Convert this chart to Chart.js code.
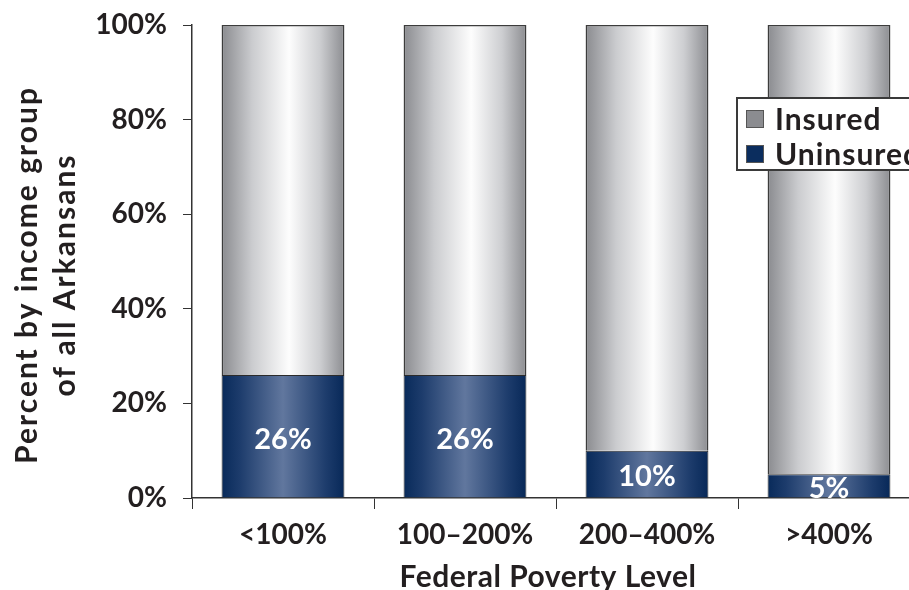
<!DOCTYPE html>
<html>
<head>
<meta charset="utf-8">
<script src="https://cdn.jsdelivr.net/npm/chart.js@4"></script>
<style>
  html, body { margin: 0; padding: 0; overflow: hidden; background: #fff; }
  #wrap { width: 930px; height: 590px; }
</style>
</head>
<body>
<div id="wrap"><canvas id="chart"></canvas></div>
<script>
const categories = ['<100%', '100\u2013200%', '200\u2013400%', '>400%'];
const insured = [74, 74, 90, 95];
const uninsured = [26, 26, 10, 5];
const yTickValues = [0, 20, 40, 60, 80, 100];

const textFont = 'Lato, "Open Sans", sans-serif';
const ink = '#231f20';

// horizontal gradient across each bar, dark edges, light middle
function barGradient(ctx, stops) {
    const chart = ctx.chart;
    if (!chart.chartArea || ctx.dataIndex === undefined) return stops[0][1];
    const xs = chart.scales.x;
    const cx = xs.getPixelForValue(ctx.dataIndex);
    const half = (xs.width / categories.length) * 0.675 / 2;
    const g = chart.ctx.createLinearGradient(cx - half, 0, cx + half, 0);
    stops.forEach(s => g.addColorStop(s[0], s[1]));
    return g;
}

const navyStops = [[0, '#082a5a'], [0.15, '#1d3c6c'], [0.5, '#61779e'], [0.85, '#1d3c6c'], [1, '#072858']];
const grayStops = [[0, '#8a8b8f'], [0.25, '#cbcccf'], [0.55, '#fdfdfd'], [0.8, '#cdced1'], [1, '#8c8d91']];

const extras = {
    id: 'extras',
    afterDatasetsDraw(chart) {
        const c = chart.ctx;
        const meta = chart.getDatasetMeta(0);
        c.save();
        // value labels in the uninsured bars
        c.fillStyle = '#fff';
        c.font = 'bold 29px ' + textFont;
        c.textAlign = 'center';
        c.textBaseline = 'middle';
        meta.data.forEach((bar, i) => {
            c.fillText(uninsured[i] + '%', bar.x, (bar.y + bar.base) / 2 + 3);
        });
        c.restore();
    },
    afterDraw(chart) {
        const c = chart.ctx;
        c.save();
        // y axis title (two lines)
        c.fillStyle = ink;
        c.font = 'bold 30px ' + textFont;
        c.letterSpacing = '2px';
        c.textAlign = 'center';
        c.textBaseline = 'alphabetic';
        c.translate(0, 275);
        c.rotate(-Math.PI / 2);
        c.fillText('Percent by income group', 0, 37);
        c.fillText('of all Arkansans', 0, 75);
        c.restore();

        c.save();
        c.fillStyle = ink;
        c.font = 'bold 30px ' + textFont;
        c.letterSpacing = '0.5px';
        c.textAlign = 'center';
        c.textBaseline = 'middle';
        c.fillText('Federal Poverty Level', 548, 577);

        // legend box
        c.fillStyle = '#fff';
        c.fillRect(737, 98, 200, 72);
        c.strokeStyle = '#3a3a3a';
        c.lineWidth = 2;
        c.strokeRect(737, 98, 200, 72);
        const items = [['Insured', '#8b8c90', 119], ['Uninsured', '#0b2d5e', 154]];
        c.textAlign = 'left';
        c.font = 'bold 30px ' + textFont;
        c.letterSpacing = '1px';
        items.forEach(it => {
            c.fillStyle = it[1];
            c.fillRect(746, it[2] - 9, 18, 18);
            c.strokeStyle = '#555';
            c.lineWidth = 1;
            c.strokeRect(746.5, it[2] - 8.5, 17, 17);
            c.fillStyle = ink;
            c.fillText(it[0], 775, it[2] + 1);
        });
        c.restore();
    }
};

new Chart(document.getElementById('chart'), {
    type: 'bar',
    data: {
        labels: categories,
        datasets: [{
            label: 'Uninsured',
            data: uninsured,
            backgroundColor: ctx => barGradient(ctx, navyStops),
            borderColor: '#2b2b2b',
            borderWidth: 1,
            barPercentage: 0.675,
            categoryPercentage: 1
        }, {
            label: 'Insured',
            data: insured,
            backgroundColor: ctx => barGradient(ctx, grayStops),
            borderColor: '#3c3c3c',
            borderWidth: 1.5,
            barPercentage: 0.675,
            categoryPercentage: 1
        }]
    },
    options: {
        responsive: true,
        maintainAspectRatio: false,
        animation: false,
        layout: { padding: { top: 25, right: 10, left: 0, bottom: 0 } },
        plugins: {
            legend: { display: false },
            tooltip: { enabled: false }
        },
        scales: {
            x: {
                stacked: true,
                afterFit: s => { s.height = 92; s.paddingLeft = 0; s.paddingRight = 0; },
                grid: { drawOnChartArea: false, drawTicks: true, tickLength: 11, color: '#333', offset: true },
                border: { color: '#333', width: 1.5 },
                ticks: {
                    color: ink,
                    padding: 9,
                    font: { family: textFont, size: 28, weight: 'bold' }
                }
            },
            y: {
                stacked: true,
                min: 0,
                max: 100,
                afterFit: s => { s.width = 192; s.paddingTop = 0; s.paddingBottom = 0; },
                afterBuildTicks: s => { s.ticks = yTickValues.map(v => ({ value: v })); },
                grid: { drawOnChartArea: false, drawTicks: true, tickLength: 9, color: '#333' },
                border: { color: '#333', width: 1.5 },
                ticks: {
                    color: ink,
                    padding: 16,
                    font: { family: textFont, size: 28, weight: 'bold' },
                    callback: v => v + '%'
                }
            }
        }
    },
    plugins: [extras]
});
</script>
</body>
</html>
